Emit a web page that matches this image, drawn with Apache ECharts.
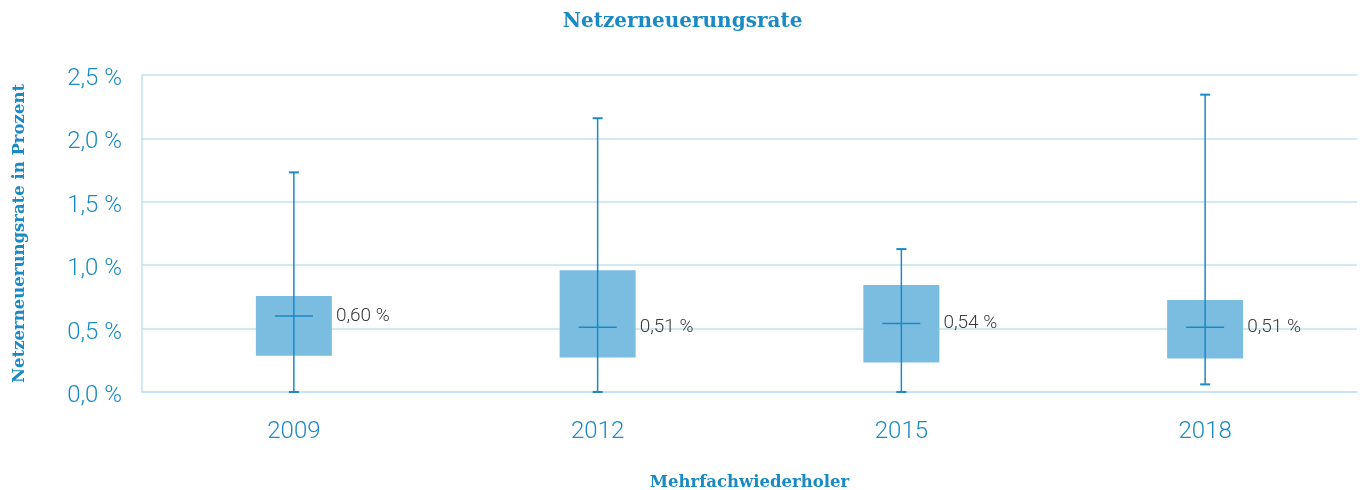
<!DOCTYPE html>
<html>
<head>
<meta charset="utf-8">
<script src="https://cdn.jsdelivr.net/npm/echarts@6/dist/echarts.min.js"></script>
<style>
  html, body { margin: 0; padding: 0; background: #fff; }
  #chart1 { width: 1365px; height: 490px; }
</style>
</head>
<body>
<div id="chart1"></div>
<script>
var years = ['2009', '2012', '2015', '2018'];
var minVals = [0.0, 0.0, 0.0, 0.06];
var q1Vals = [0.285, 0.272, 0.233, 0.264];
var medianVals = [0.60, 0.51, 0.54, 0.51];
var q3Vals = [0.757, 0.961, 0.844, 0.726];
var maxVals = [1.732, 2.159, 1.127, 2.345];
var medianLabels = ['0,60 %', '0,51 %', '0,54 %', '0,51 %'];

var blue = '#1a8ac4';
var boxFill = '#7bbde0';
var gridColor = '#c4e1f2';
var slab = '"DejaVu Serif", serif';

var chart = echarts.init(document.getElementById('chart1'));

var seriesData = years.map(function (y, i) {
    return [i, minVals[i], q1Vals[i], medianVals[i], q3Vals[i], maxVals[i]];
});

function renderBox(params, api) {
    var idx = api.value(0);
    var pMin = api.coord([idx, api.value(1)]);
    var pQ1 = api.coord([idx, api.value(2)]);
    var pMed = api.coord([idx, api.value(3)]);
    var pQ3 = api.coord([idx, api.value(4)]);
    var pMax = api.coord([idx, api.value(5)]);
    var x = pMed[0];
    var boxW = 76;
    var capW = 10;
    var medW = 38;
    return {
        type: 'group',
        children: [{
            type: 'rect',
            shape: { x: x - boxW / 2, y: pQ3[1], width: boxW, height: pQ1[1] - pQ3[1] },
            style: { fill: boxFill }
        }, {
            type: 'line',
            shape: { x1: x, y1: pMax[1], x2: x, y2: pMin[1] },
            style: { stroke: blue, lineWidth: 1.5 }
        }, {
            type: 'line',
            shape: { x1: x - capW / 2, y1: pMax[1], x2: x + capW / 2, y2: pMax[1] },
            style: { stroke: blue, lineWidth: 2 }
        }, {
            type: 'line',
            shape: { x1: x - capW / 2, y1: pMin[1], x2: x + capW / 2, y2: pMin[1] },
            style: { stroke: blue, lineWidth: 2 }
        }, {
            type: 'line',
            shape: { x1: x - medW / 2, y1: pMed[1], x2: x + medW / 2, y2: pMed[1] },
            style: { stroke: blue, lineWidth: 1.5 }
        }, {
            type: 'text',
            style: {
                x: x + boxW / 2 + 4,
                y: pMed[1],
                text: medianLabels[idx],
                fill: '#3a3a3a',
                font: '300 19px Roboto, sans-serif',
                verticalAlign: 'middle',
                align: 'left'
            }
        }]
    };
}

var option = {
    animation: false,
    title: {
        text: 'Netzerneuerungsrate',
        left: 'center',
        top: 7,
        textStyle: { color: blue, fontFamily: slab, fontWeight: 'bold', fontSize: 20 }
    },
    grid: {
        left: 142,
        right: 8,
        top: 75,
        bottom: 98,
        outerBoundsMode: 'none',
        containLabel: false
    },
    xAxis: {
        type: 'category',
        data: years,
        name: 'Mehrfachwiederholer',
        nameLocation: 'middle',
        nameGap: 82,
        nameTextStyle: { color: blue, fontFamily: slab, fontWeight: 'bold', fontSize: 16.5 },
        axisLine: { show: true, lineStyle: { color: gridColor, width: 1.5 } },
        axisTick: { show: false },
        axisLabel: { color: blue, fontSize: 24, fontWeight: 300, fontFamily: 'Roboto, sans-serif', margin: 28 },
        splitLine: { show: false }
    },
    yAxis: {
        type: 'value',
        min: 0,
        max: 2.5,
        interval: 0.5,
        name: 'Netzerneuerungsrate in Prozent',
        nameLocation: 'middle',
        nameGap: 114,
        nameRotate: 90,
        nameTextStyle: { color: blue, fontFamily: slab, fontWeight: 'bold', fontSize: 16.5 },
        axisLine: { show: true, lineStyle: { color: gridColor, width: 1.5 } },
        axisTick: { show: false },
        axisLabel: {
            margin: 20,
            formatter: function (v) { return '{t|' + v.toFixed(1).replace('.', ',') + ' %}'; },
            rich: {
                t: {
                    color: blue,
                    fontSize: 24,
                    fontWeight: 300,
                    fontFamily: 'Roboto, sans-serif',
                    padding: [8, 0, 0, 0]
                }
            }
        },
        splitLine: { show: true, lineStyle: { color: gridColor, width: 1.5 } }
    },
    series: [{
        type: 'custom',
        renderItem: renderBox,
        encode: { x: 0, y: [1, 2, 3, 4, 5] },
        data: seriesData
    }]
};

chart.setOption(option);
</script>
</body>
</html>
